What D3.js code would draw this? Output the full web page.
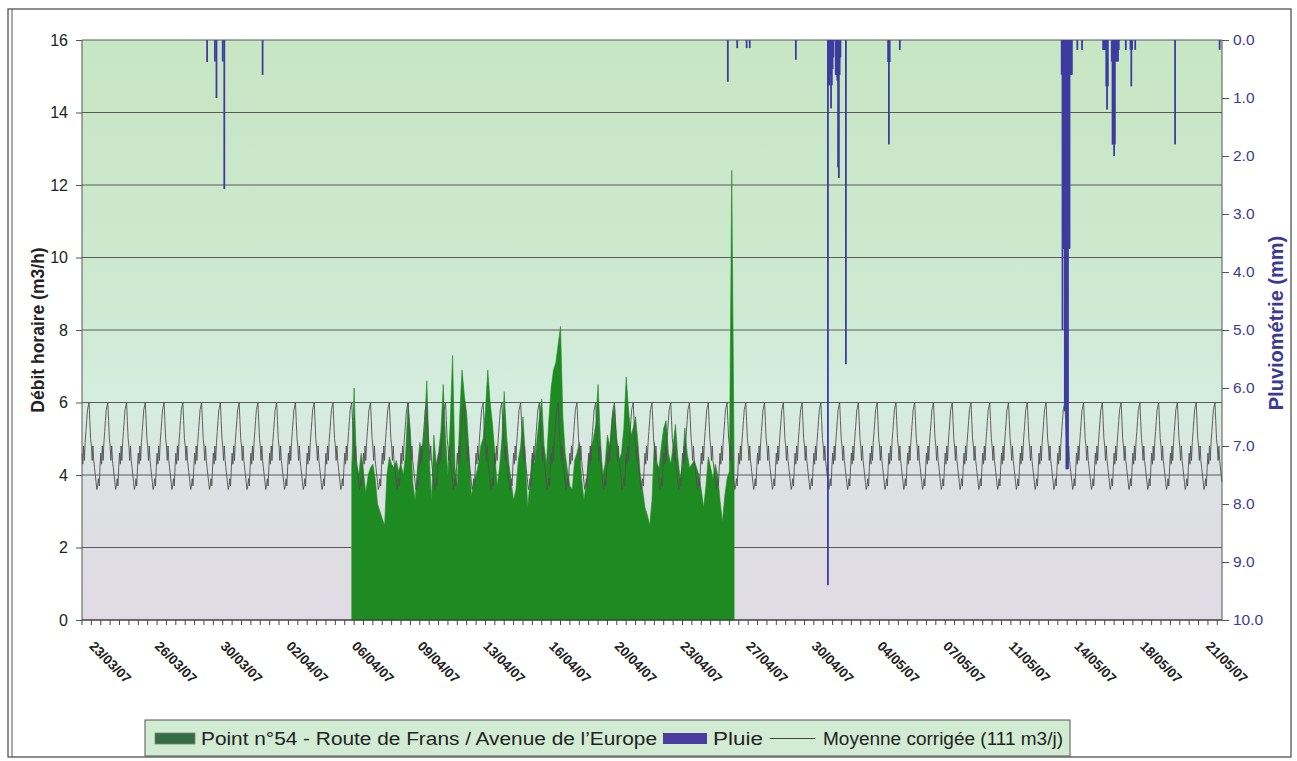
<!DOCTYPE html>
<html><head><meta charset="utf-8">
<script src="https://cdn.jsdelivr.net/npm/d3@7"></script>
<style>
html,body{margin:0;padding:0;background:#fff;}
svg{display:block;font-family:"Liberation Sans",Arial,sans-serif;}
</style></head>
<body>
<svg id="chart" width="1297" height="761"></svg>
<script>
// ---------- DATA ----------
const domainStart = "22/03/2007 12:00";
const domainEnd   = "22/05/2007 06:00";

const xTickDates  = ["23/03/2007 00:00","26/03/2007 12:00","30/03/2007 00:00","02/04/2007 12:00","06/04/2007 00:00","09/04/2007 12:00",
                     "13/04/2007 00:00","16/04/2007 12:00","20/04/2007 00:00","23/04/2007 12:00","27/04/2007 00:00","30/04/2007 12:00",
                     "04/05/2007 00:00","07/05/2007 12:00","11/05/2007 00:00","14/05/2007 12:00","18/05/2007 00:00","21/05/2007 12:00"];
const xTickLabels = ["23/03/07","26/03/07","30/03/07","02/04/07","06/04/07","09/04/07","13/04/07","16/04/07","20/04/07",
                     "23/04/07","27/04/07","30/04/07","04/05/07","07/05/07","11/05/07","14/05/07","18/05/07","21/05/07"];
const leftTicks  = [0,2,4,6,8,10,12,14,16];
const rightTicks = [0,1,2,3,4,5,6,7,8,9,10];

// Measured flow (m3/h), 3-hour steps starting 05/04/2007 21:00
const flowStart = "05/04/2007 21:00";
const flowValues = [
 4.2,6.4,4.3,4.0,4.6,4.1,3.5,4.0,
 4.2,4.3,3.9,3.2,3.0,2.8,2.6,4.0,
 4.5,4.3,4.2,4.4,4.1,4.3,4.0,4.6,
 6.0,5.2,3.8,3.3,4.2,4.9,4.6,5.3,
 6.6,4.5,3.3,5.1,4.3,4.6,5.2,6.5,
 5.0,4.0,5.5,7.3,4.2,3.7,5.6,6.9,
 6.2,5.7,4.6,3.4,3.8,4.0,4.3,4.8,
 5.0,5.8,6.9,6.0,5.4,4.6,3.7,4.2,
 5.0,6.3,5.1,4.3,3.8,3.3,3.6,4.4,
 4.8,5.6,4.5,3.1,3.8,4.6,4.3,5.0,
 5.6,6.1,4.8,4.3,5.5,6.4,6.9,7.1,
 7.6,8.1,5.6,4.6,4.1,3.7,3.6,4.4,
 4.6,4.9,3.9,3.3,3.8,4.5,4.7,5.0,
 5.4,6.5,5.0,4.0,4.3,5.1,4.8,5.6,
 5.9,5.0,4.4,4.6,5.3,6.7,5.8,5.1,
 5.3,5.6,4.9,4.0,3.6,3.1,2.9,2.6,
 3.3,4.9,4.3,4.2,4.8,5.3,5.5,4.6,
 4.3,4.8,5.4,4.5,3.9,4.3,5.3,4.6,
 4.2,4.3,4.4,4.2,4.0,3.6,3.1,3.7,
 4.5,4.2,3.9,4.3,4.0,3.3,2.7,3.4,
 3.9,4.1,12.4,4.4
];

// Corrected mean daily profile (m3/h) by hour of day 0..23 (111 m3/j)
const meanProfile = [4.8,4.4,4.8,4.4,4.2,4.0,3.8,3.6,3.7,3.9,3.7,4.2,4.6,4.3,4.8,4.4,4.9,5.2,5.5,5.8,5.9,6.0,5.5,5.0];

// Rain (mm per hour)
const rainTimes = [
 "29/03/2007 04:00","29/03/2007 14:00","29/03/2007 16:00","30/03/2007 00:00","30/03/2007 02:00","01/04/2007 03:00",
 "25/04/2007 22:00","26/04/2007 10:00","26/04/2007 22:00","27/04/2007 02:00","29/04/2007 13:00",
 "01/05/2007 06:00","01/05/2007 07:00","01/05/2007 08:00","01/05/2007 09:00","01/05/2007 10:00","01/05/2007 11:00","01/05/2007 12:00","01/05/2007 13:00",
 "01/05/2007 16:00","01/05/2007 17:00","01/05/2007 18:00","01/05/2007 19:00","01/05/2007 20:00","01/05/2007 21:00","01/05/2007 22:00",
 "02/05/2007 05:00",
 "04/05/2007 11:00","04/05/2007 12:00","04/05/2007 13:00","05/05/2007 02:00",
 "13/05/2007 17:00","13/05/2007 18:00","13/05/2007 19:00","13/05/2007 20:00","13/05/2007 21:00","13/05/2007 22:00","13/05/2007 23:00",
 "14/05/2007 00:00","14/05/2007 01:00","14/05/2007 02:00","14/05/2007 03:00","14/05/2007 04:00","14/05/2007 05:00","14/05/2007 06:00",
 "14/05/2007 13:00","14/05/2007 19:00",
 "15/05/2007 22:00","15/05/2007 23:00","16/05/2007 00:00","16/05/2007 01:00","16/05/2007 02:00","16/05/2007 03:00","16/05/2007 04:00",
 "16/05/2007 09:00","16/05/2007 10:00","16/05/2007 11:00","16/05/2007 12:00","16/05/2007 13:00","16/05/2007 14:00","16/05/2007 15:00","16/05/2007 16:00","16/05/2007 17:00","16/05/2007 18:00",
 "17/05/2007 03:00","17/05/2007 09:00","17/05/2007 10:00","17/05/2007 11:00","17/05/2007 15:00",
 "19/05/2007 18:00","22/05/2007 03:00"
];
const rainValues = [
 0.38,0.37,1.0,0.37,2.57,0.6,
 0.72,0.14,0.14,0.14,0.34,
 9.4,0.78,0.78,0.6,1.18,0.78,0.5,0.3,
 0.6,0.6,0.7,2.2,2.38,0.6,0.3,
 5.59,
 0.38,1.8,0.38,0.17,
 0.6,5.0,3.6,3.6,6.4,6.4,7.4,
 7.4,7.4,3.6,3.6,0.6,0.6,0.6,
 0.17,0.17,
 0.17,0.17,0.17,0.17,0.8,1.2,0.8,
 0.37,1.8,1.8,2.0,1.8,0.37,0.37,0.37,0.37,0.17,
 0.17,0.17,0.8,0.17,0.17,
 1.8,0.17
];

const legendLabels = ["Point n°54 - Route de Frans / Avenue de l\u2019Europe","Pluie","Moyenne corrigée (111 m3/j)"];

// ---------- CHART ----------
const parse = d3.utcParse("%d/%m/%Y %H:%M");
const HOUR = 3600e3;
const svg = d3.select("#chart");
const L = 82, R = 1222, T = 40, B = 620;

const x = d3.scaleUtc().domain([parse(domainStart), parse(domainEnd)]).range([L, R]);
const yL = d3.scaleLinear().domain([0,16]).range([B, T]);
const yR = d3.scaleLinear().domain([0,10]).range([T, B]);

// outer frame
svg.append("rect").attr("x",8).attr("y",9).attr("width",1283).attr("height",748)
   .attr("fill","none").attr("stroke","#444").attr("stroke-width",1.2);
svg.append("line").attr("x1",12).attr("x2",12).attr("y1",9).attr("y2",757).attr("stroke","#555");

// background gradient
const defs = svg.append("defs");
const grad = defs.append("linearGradient").attr("id","bg").attr("x1",0).attr("y1",0).attr("x2",0).attr("y2",1);
[[0,"#c7e6c3"],[0.45,"#cde9d1"],[0.63,"#d5ede0"],[0.76,"#dde1e3"],[1,"#e0dae4"]]
  .forEach(s=>grad.append("stop").attr("offset",s[0]).attr("stop-color",s[1]));
svg.append("rect").attr("x",L).attr("y",T).attr("width",R-L).attr("height",B-T).attr("fill","url(#bg)");

// grid
svg.append("g").selectAll("line").data(leftTicks).join("line")
  .attr("x1",L).attr("x2",R).attr("y1",d=>yL(d)).attr("y2",d=>yL(d))
  .attr("stroke","#5a5a5a").attr("stroke-width",1);

// flow area
const t0 = parse(flowStart);
const flow = flowValues.map((v,i)=>({t:new Date(+t0 + i*3*HOUR), v}));
svg.append("path").datum(flow)
  .attr("d", d3.area().x(d=>x(d.t)).y0(yL(0)).y1(d=>yL(d.v)))
  .attr("fill","#1e8a22").attr("stroke","#1e8a22").attr("stroke-width",0.6);

// mean line (hourly, repeated daily profile)
const ds = parse(domainStart), de = parse(domainEnd);
const mean = [];
for (let t = +ds; t <= +de; t += HOUR) {
  const d = new Date(t);
  mean.push({t:d, v:meanProfile[d.getUTCHours()]});
}
svg.append("path").datum(mean)
  .attr("d", d3.line().x(d=>x(d.t)).y(d=>yL(d.v)))
  .attr("fill","none").attr("stroke","#505050").attr("stroke-width",0.9);

// rain bars
const rain = rainTimes.map((s,i)=>({t:parse(s), v:rainValues[i]}));
svg.append("g").selectAll("rect").data(rain).join("rect")
  .attr("x",d=>x(d.t)-0.9)
  .attr("width",d=>x(new Date(+d.t+HOUR))-x(d.t)+1.0)
  .attr("y",yR(0))
  .attr("height",d=>yR(d.v)-yR(0))
  .attr("fill","#3c3ca0");

// axes lines
svg.append("line").attr("x1",L).attr("x2",L).attr("y1",T).attr("y2",B).attr("stroke","#555");
svg.append("line").attr("x1",R).attr("x2",R).attr("y1",T).attr("y2",B).attr("stroke","#555");
svg.append("line").attr("x1",L).attr("x2",R).attr("y1",B).attr("y2",B).attr("stroke","#333");

// left axis
const gL = svg.append("g").attr("transform",`translate(${L},0)`)
  .call(d3.axisLeft(yL).tickValues(leftTicks).tickSize(6).tickPadding(8).tickFormat(d3.format("d")));
gL.select(".domain").remove();
gL.selectAll("line").attr("stroke","#555");
gL.selectAll("text").attr("font-size",16).attr("fill","#222").attr("font-family","Liberation Sans, Arial, sans-serif");

// right axis
const gR = svg.append("g").attr("transform",`translate(${R},0)`)
  .call(d3.axisRight(yR).tickValues(rightTicks).tickSize(7).tickPadding(4).tickFormat(d3.format(".1f")));
gR.select(".domain").remove();
gR.selectAll("line").attr("stroke","#555");
gR.selectAll("text").attr("font-size",15.5).attr("fill","#3b3b96").attr("font-family","Liberation Sans, Arial, sans-serif");

// bottom minor ticks (12 h)
const minor = d3.utcHour.every(12).range(ds, new Date(+de+1));
svg.append("g").selectAll("line").data(minor).join("line")
  .attr("x1",d=>x(d)).attr("x2",d=>x(d)).attr("y1",B).attr("y2",B+5).attr("stroke","#444");

// bottom labels
svg.append("g").selectAll("text").data(xTickDates.map((s,i)=>({t:parse(s), l:xTickLabels[i]}))).join("text")
  .attr("transform",d=>`translate(${x(d.t)-3},${647}) rotate(45)`)
  .attr("font-size",13.5).attr("font-weight","bold").attr("fill","#222")
  .text(d=>d.l);

// axis titles
svg.append("text").attr("transform","translate(44,330) rotate(-90)").attr("text-anchor","middle")
  .attr("font-size",17.5).attr("font-weight","bold").attr("fill","#222").text("Débit horaire (m3/h)");
svg.append("text").attr("transform","translate(1283,323) rotate(-90)").attr("text-anchor","middle")
  .attr("font-size",20).attr("font-weight","bold").attr("fill","#3b3b96").text("Pluviométrie (mm)");

// legend
const lg = svg.append("g");
lg.append("rect").attr("x",145).attr("y",720).attr("width",925).attr("height",36)
  .attr("fill","#d2ebd3").attr("stroke","#555");
lg.append("rect").attr("x",155).attr("y",733).attr("width",40).attr("height",11).attr("fill","#356b45").attr("stroke","#6a8a70").attr("stroke-width",0.8);
lg.append("text").attr("x",201).attr("y",745).attr("font-size",18).attr("fill","#222")
  .attr("textLength",456).attr("lengthAdjust","spacingAndGlyphs").text(legendLabels[0]);
lg.append("rect").attr("x",663).attr("y",733).attr("width",44).attr("height",11).attr("fill","#4a3c9e");
lg.append("text").attr("x",713).attr("y",745).attr("font-size",18).attr("fill","#222")
  .attr("textLength",50).attr("lengthAdjust","spacingAndGlyphs").text(legendLabels[1]);
lg.append("line").attr("x1",770).attr("x2",815).attr("y1",738.5).attr("y2",738.5).attr("stroke","#444");
lg.append("text").attr("x",823).attr("y",745).attr("font-size",18).attr("fill","#222")
  .attr("textLength",240).attr("lengthAdjust","spacingAndGlyphs").text(legendLabels[2]);
</script>
</body></html>
